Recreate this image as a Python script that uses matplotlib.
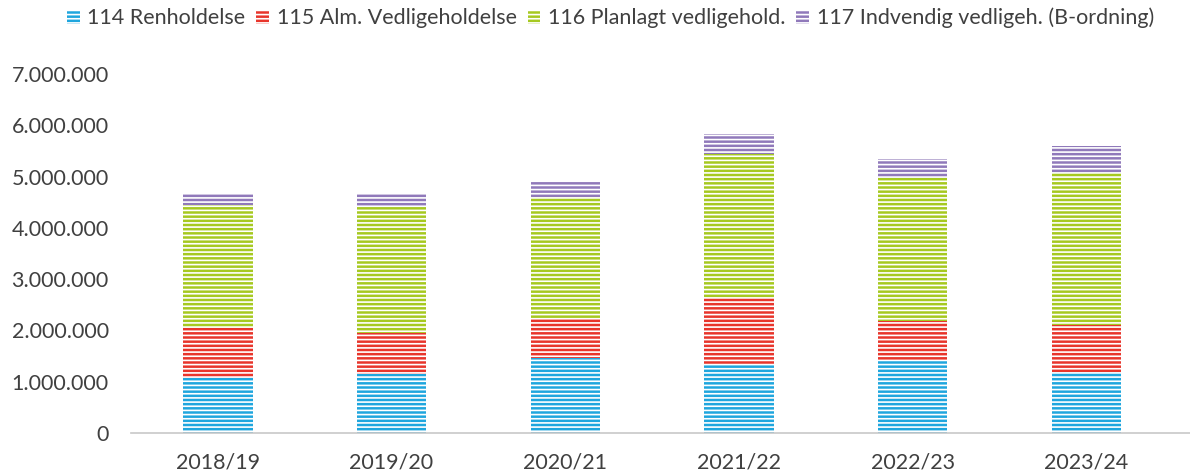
import numpy as np
import matplotlib.pyplot as plt
from matplotlib.ticker import FuncFormatter

years = ['2018/19', '2019/20', '2020/21', '2021/22', '2022/23', '2023/24']
series_names = ['114 Renholdelse', '115 Alm. Vedligeholdelse',
                '116 Planlagt vedligehold.', '117 Indvendig vedligeh. (B-ordning)']
renhold = [1070000, 1150000, 1460000, 1340000, 1420000, 1190000]
alm_vedl = [980000, 800000, 780000, 1290000, 760000, 920000]
planlagt = [2390000, 2450000, 2360000, 2810000, 2790000, 2960000]
indvendig = [220000, 280000, 310000, 390000, 370000, 520000]
colors = ['#1fa6de', '#e8352b', '#a6c920', '#9079ba']

plt.rcParams['font.family'] = ['Lato', 'DejaVu Sans']
plt.rcParams['hatch.color'] = 'white'
plt.rcParams['hatch.linewidth'] = 1.2
text_col = '#404040'

fig = plt.figure(figsize=(11.9, 4.75), dpi=100)
ax = fig.add_axes([0.110, 0.0884, 0.876, 0.7556])

x = np.arange(len(years))
bottom = np.zeros(len(years))
handles = []
for vals, name, c in zip([renhold, alm_vedl, planlagt, indvendig], series_names, colors):
    b = ax.bar(x, vals, 0.4, bottom=bottom, color=c, edgecolor='white',
               linewidth=0, hatch='----', label=name)
    handles.append(b)
    bottom += np.array(vals)

ax.set_xlim(-0.5, len(years) - 0.5)
ax.set_ylim(0, 7000000)
ax.set_yticks(np.arange(0, 7000001, 1000000))
ax.yaxis.set_major_formatter(FuncFormatter(lambda v, p: f'{int(v):,}'.replace(',', '.')))
ax.set_xticks(x)
ax.set_xticklabels(years)
ax.tick_params(axis='both', length=0, labelsize=15.5, labelcolor=text_col)
ax.tick_params(axis='x', pad=14)
ax.tick_params(axis='y', pad=16)
for s in ax.spines.values():
    s.set_visible(False)
ax.axhline(0, color='#c8c8c8', linewidth=1.2, clip_on=False, xmax=1.02)

fig.legend(handles, series_names, loc='center', bbox_to_anchor=(0.513, 0.962),
           ncol=4, frameon=False, fontsize=15.5, labelcolor=text_col,
           handlelength=0.6, handleheight=0.6, handletextpad=0.35, columnspacing=0.5)

fig.savefig('out.png', dpi=100)
